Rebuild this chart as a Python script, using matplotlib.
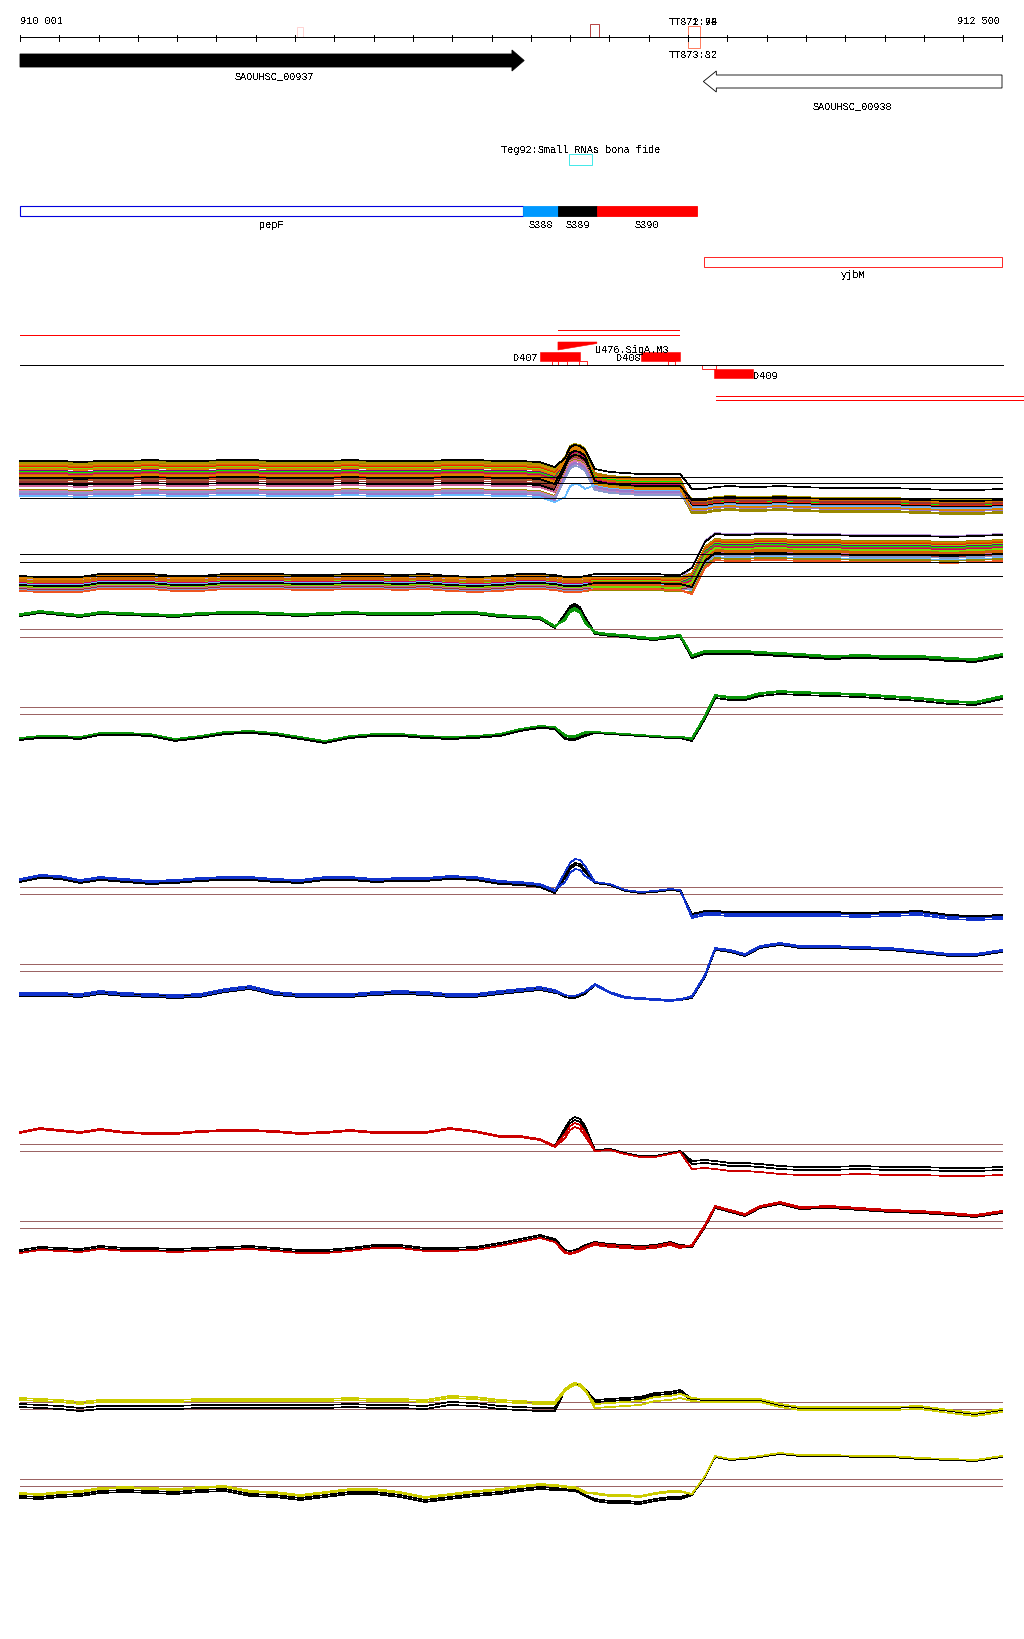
import matplotlib
matplotlib.use("Agg")
import matplotlib.pyplot as plt
from matplotlib.patches import Polygon, Rectangle
import numpy as np

plt.rcParams["text.antialiased"] = False

W, H = 1024, 1640
START, END = 910001, 912500

# ---- annotation features (genomic coordinates) ----
GENE_FWD = ("SAOUHSC_00937", 910001, 911253, 911284)   # start, head start, tip
GENE_REV = ("SAOUHSC_00938", 911740, 911773, 912500)   # tip, head end, end
PEPF = ("pepF", 910001, 911281)
SEGMENTS = [("S388", 911281, 911370, "#0099ff"),
            ("S389", 911370, 911469, "#000000"),
            ("S390", 911469, 911724, "#ff0000")]
YJBM = ("yjbM", 911742, 912500)
TEG92 = ("Teg92:Small RNAs bona fide", 911398, 911457)

# ---- signal tracks: sample grid (bp) ----
POS = [910001, 910052, 910103, 910154, 910205, 910268, 910332, 910395, 910459,
       910523, 910587, 910650, 910714, 910777, 910841, 910904, 910968, 911032,
       911095, 911159, 911222, 911273, 911324, 911362, 911388, 911401, 911413,
       911426, 911439, 911464, 911502, 911541, 911579, 911617, 911655, 911681,
       911711, 911744, 911770, 911808, 911846, 911884, 911935, 911986, 912062,
       912138, 912215, 912291, 912367, 912431, 912500]
PEAK_START, MID_START, RIGHT_START = 911375, 911460, 911700

BUNDLE_A_BASE = [42, 42, 42, 41, 42, 42, 43, 42, 42, 43, 43, 42, 42, 42, 43, 42, 42,
                 42, 43, 43, 42, 42, 41, 36, 52, 63, 65, 64, 60, 40, 37, 36, 35, 35,
                 35, 35, 15, 15, 17, 18, 17, 17, 18, 17, 16, 16, 16, 15, 14, 14, 15]
BUNDLE_A_REF = [42, 36, 21]
# colour, offsets for (left, peak, middle, right)
BUNDLE_A_LINES = [
    ("#998800", (15, 8, 6, -8)), ("#998800", (13, 6, 4, -6)),
    ("#e08000", (12, 7, 3, 2)), ("#cc6600", (11, 5, 5, 1)),
    ("#ee2200", (10, 4, 2, 0)), ("#77dd00", (9, 3, 1, -2)),
    ("#e08000", (8, 6, 0, 3)), ("#800080", (6, 2, -1, -1)),
    ("#00ee00", (5, 1, 2, 0)), ("#a0522d", (4, 0, -2, 1)),
    ("#cc0066", (3, 2, -1, -3)), ("#cc6600", (2, -1, 1, 2)),
    ("#ee2200", (0, -2, -3, -1)), ("#dd5511", (-2, -2, -4, -2)),
    ("#a0522d", (-3, -3, -3, -4)), ("#993333", (-5, -4, -5, 1)),
    ("#000000", (-7, -1, -6, -2)), ("#cc6699", (-9, -5, -7, -4)),
    ("#998800", (-13, -6, -8, -9)), ("#dd77aa", (-14, -7, -9, -3)),
    ("#aa88cc", (-16, -10, -10, -5)), ("#9977cc", (-17, -9, -8, -6)),
    ("#8899cc", (-15, -12, -11, -3)), ("#66bbff", (-19, -30, -6, -4)),
    ("#aa9900", (14, 10, -4, 5)), ("#e08000", (1, 4, -5, -5)),
    ("#000000", (-1, 3, -2, 4)), ("#000000", (16, 9, 10, 15)),
]

BUNDLE_B_BASE = [17, 16, 16, 16, 19, 19, 19, 17, 17, 19, 19, 19, 18, 18, 19, 19, 18,
                 19, 17, 16, 17, 19, 19, 18, 16, 16, 16, 16, 17, 18, 18, 18, 18, 18,
                 17, 17, 20, 46, 54, 53, 53, 54, 54, 53, 53, 52, 52, 52, 51, 52, 53]
BUNDLE_B_REF = [45, 37, 23]
BUNDLE_B_LINES = [
    ("#bb99dd", (3, 3, 3, 12)), ("#998800", (5, 5, 4, 6)),
    ("#e08000", (4, 4, 3, 5)), ("#cc6600", (2, 2, 2, 4)),
    ("#ee2200", (1, 1, 1, 3)), ("#77dd00", (0, 0, 0, 2)),
    ("#800080", (-1, -1, -1, 1)), ("#00ee00", (-2, -2, -2, 0)),
    ("#a0522d", (-3, -3, -3, -1)), ("#cc0066", (-1, -1, -2, -2)),
    ("#66bbff", (-2, -2, -3, -12)), ("#998800", (-5, -5, -5, -4)),
    ("#dd5511", (-4, -4, -4, -5)), ("#cc6699", (-6, -6, -6, -7)),
    ("#993333", (-7, -7, -7, -9)), ("#8899cc", (-8, -8, -8, -10)),
    ("#998800", (-9, -9, -9, -13)), ("#ee5522", (-9, -9, -8, -15)),
    ("#cc6600", (1, 1, -1, -6)), ("#77dd00", (-4, -4, -6, -3)),
    ("#000000", (-3, -3, -2, -8)), ("#000000", (6, 6, 7, 11)),
]

G1 = [54, 57, 55, 53, 56, 55, 54, 53, 55, 56, 56, 55, 54, 55, 56, 55, 55, 55, 56, 56,
      53, 52, 51, 42, 51, 59, 61, 58, 48, 36, 34, 33, 31, 30, 32, 33, 13, 17, 17, 17,
      17, 16, 15, 14, 12, 13, 12, 12, 10, 9, 14]
G2 = [11, 13, 13, 12, 16, 16, 15, 10, 13, 17, 18, 16, 12, 8, 13, 15, 15, 13, 12, 13,
      15, 20, 23, 22, 13, 12, 12, 14, 16, 17, 16, 15, 14, 13, 12, 12, 11, 33, 54, 52,
      52, 56, 58, 57, 56, 55, 53, 51, 48, 47, 53]
BL1 = [44, 48, 47, 43, 46, 44, 42, 43, 45, 46, 46, 44, 43, 46, 46, 44, 45, 45, 47, 46,
       42, 41, 39, 33, 52, 61, 65, 64, 58, 42, 40, 34, 32, 33, 35, 34, 8, 11, 11, 10,
       10, 10, 10, 10, 10, 9, 10, 11, 7, 6, 7]
BL2 = [14, 14, 14, 13, 16, 14, 13, 12, 13, 18, 21, 15, 13, 13, 13, 15, 16, 15, 13, 13,
       16, 18, 20, 17, 14, 13, 13, 15, 17, 25, 17, 12, 11, 10, 9, 10, 12, 33, 60, 58,
       54, 62, 65, 62, 62, 61, 60, 57, 54, 54, 58]
R1 = [52, 56, 54, 52, 55, 52, 51, 51, 53, 54, 54, 53, 51, 52, 54, 52, 52, 52, 56, 53,
      48, 48, 45, 38, 50, 58, 61, 59, 52, 33, 34, 30, 27, 27, 30, 32, 15, 16, 15, 13,
      13, 12, 10, 9, 9, 10, 9, 9, 8, 8, 9]
R2 = [11, 14, 13, 12, 15, 13, 13, 12, 13, 14, 15, 13, 11, 11, 13, 16, 16, 13, 13, 14,
      18, 22, 26, 22, 12, 11, 12, 14, 17, 21, 19, 18, 17, 18, 21, 18, 18, 38, 57, 53,
      49, 57, 61, 56, 57, 55, 53, 52, 50, 48, 52]
Y1 = [21, 20, 19, 17, 19, 19, 19, 19, 20, 20, 20, 20, 20, 20, 21, 20, 20, 19, 23, 22,
      19, 18, 17, 17, 30, 34, 36, 35, 30, 11, 12, 13, 14, 18, 19, 21, 18, 17, 17, 17,
      17, 17, 12, 9, 9, 9, 9, 10, 6, 3, 7]
Y2 = [21, 20, 22, 23, 26, 27, 26, 25, 27, 28, 23, 22, 19, 22, 25, 25, 22, 17, 20, 23,
      25, 28, 30, 29, 28, 27, 27, 25, 22, 20, 18, 18, 17, 20, 22, 22, 20, 38, 58, 55,
      56, 58, 61, 59, 59, 58, 58, 56, 55, 54, 58]

# replicate offsets (left, peak, middle, right); "k" = black, "c" = track colour
G1_REPS = [("k", (0, 2, -1, -2)), ("k", (-1, 4, 0, -1)), ("c", (1, -2, 1, 1)), ("c", (0, 0, 0, 0))]
G2_REPS = [("k", (-1, -3, -1, -3)), ("k", (-2, -2, -1, -1)), ("c", (0, 1, 0, -1)), ("c", (0, 0, 0, 0))]
BL1_REPS = [("k", (-2, -4, -1, 1)), ("k", (-1, -6, 0, 2)), ("c", (1, -10, 0, -2)), ("c", (0, 0, 0, 0))]
BL2_REPS = [("k", (-1, 0, 0, 0)), ("k", (1, -2, -1, -1)), ("c", (2, 0, -1, 1)), ("c", (0, 0, 0, 0))]
R1_REPS = [("k", (0, 6, 1, 8)), ("k", (0, 3, 1, 5)), ("c", (-1, -4, 0, 0)), ("c", (0, 0, 0, 0))]
R2_REPS = [("k", (3, 2, 1, 0)), ("k", (1, 0, -1, -1)), ("c", (0, -1, -2, 1)), ("c", (0, 0, 0, 0))]
Y1_REPS = [("k", (-6, 0, 8, 2)), ("k", (-9, -1, 6, 0)), ("c", (-2, -2, 4, 3)), ("c", (0, 0, 0, 0))]
Y2_REPS = [("k", (-3, -3, -5, 0)), ("k", (-5, -4, -7, -1)), ("c", (-1, -1, 1, 0)), ("c", (0, 0, 0, 0))]

G1_REF, G2_REF = [40, 32], [42, 35]
BL1_REF, BL2_REF = [37, 30], [45, 38]
R1_REF, R2_REF = [40, 33], [43, 36]
Y1_REF, Y2_REF = [17, 10], [35, 28]

FONT = dict(family=["Liberation Mono", "DejaVu Sans Mono"], fontsize=7.4)
BP_PER_PX = (END - START) / 982
XLIM = (START - 20 * BP_PER_PX, START + 1004 * BP_PER_PX)
REF_BROWN = "#9c6464"


def seg_of(p):
    if p < PEAK_START:
        return 0
    if p < MID_START:
        return 1
    if p < RIGHT_START:
        return 2
    return 3


SEG = np.array([seg_of(p) for p in POS])


def replicate(base, offs):
    return np.asarray(base, float) + np.asarray(offs, float)[SEG]


fig = plt.figure(figsize=(W / 100, H / 100), dpi=100)
ax = fig.add_axes([0, 0, 1, 1])
ax.set_xlim(*XLIM)
ax.set_ylim(H, 0)
ax.axis("off")

line_kw = dict(lw=0.5, antialiased=False)
edge_lw = 0.6

# ruler
ax.plot([START, END], [38, 38], color="black", **line_kw)
for t in list(range(START, END, 100)) + [END]:
    ax.plot([t, t], [35.5, 41.5], color="black", **line_kw)
ax.text(START, 21, "910 001", ha="left", va="center", **FONT)
ax.text(END - 2 * BP_PER_PX, 21, "912 500", ha="right", va="center", **FONT)
ax.add_patch(Rectangle((910706, 28), 16, 10, fill=False, ec="#ffcccc", lw=edge_lw))
ax.add_patch(Rectangle((911452, 25), 22, 13, fill=False, ec="#aa2222", lw=edge_lw))
ax.add_patch(Rectangle((911701, 27), 31, 11, fill=False, ec="#ff6644", lw=edge_lw))
ax.add_patch(Rectangle((911701, 38), 31, 11, fill=False, ec="#ff6644", lw=edge_lw))
ax.text(911713, 22, "TT872:94", ha="center", va="center", **FONT)
ax.text(911713, 22, "TT871:70", ha="center", va="center", **FONT)
ax.text(911713, 55, "TT873:82", ha="center", va="center", **FONT)

# genes
name, s, hs, tip = GENE_FWD
ax.add_patch(Polygon([(s, 55), (hs, 55), (hs, 51), (tip, 61.5), (hs, 72), (hs, 68), (s, 68)],
                     closed=True, fc="black", ec="black", lw=edge_lw))
ax.text((s + tip) / 2 + 2 * BP_PER_PX, 76, name, ha="center", va="center", **FONT)
name, tip, he, e = GENE_REV
ax.add_patch(Polygon([(tip, 82.5), (he, 72), (he, 76), (e, 76), (e, 89), (he, 89), (he, 93)],
                     closed=True, fc="white", ec="black", lw=edge_lw))
ax.text((tip + e) / 2, 106, name, ha="center", va="center", **FONT)

# small RNA
name, s, e = TEG92
ax.text((s + e) / 2, 150, name, ha="center", va="center", **FONT)
ax.add_patch(Rectangle((s, 155), e - s, 11, fill=False, ec="#22e5e5", lw=edge_lw))

# pepF operon segments
name, s, e = PEPF
ax.add_patch(Rectangle((s, 207), e - s, 10, fc="white", ec="#0000dd", lw=0.8))
ax.text((s + e) / 2, 225, name, ha="center", va="center", **FONT)
for name, s, e, c in SEGMENTS:
    ax.add_patch(Rectangle((s, 207), e - s, 10, fc=c, ec=c, lw=edge_lw))
    ax.text((s + e) / 2, 225, name, ha="center", va="center", **FONT)

name, s, e = YJBM
ax.add_patch(Rectangle((s, 258), e - s, 10, fill=False, ec="#ff0000", lw=edge_lw))
ax.text((s + e) / 2, 275, name, ha="center", va="center", **FONT)

# transcription units / promoters
ax.plot([910001, 911678], [336, 336], color="#ff0000", **line_kw)
ax.plot([911370, 911678], [331, 331], color="#ff0000", **line_kw)
ax.add_patch(Polygon([(911370, 343), (911469, 343), (911469, 344.5), (911370, 351)],
                     closed=True, fc="#ff0000", ec="#ff0000", lw=0.4))
ax.text(911464, 350, "U476.SigA.M3", ha="left", va="center", **FONT)
ax.add_patch(Rectangle((911324, 353), 102, 9, fc="#ff0000", ec="#ff0000", lw=0.4))
ax.text(911319, 358, "D407", ha="right", va="center", **FONT)
for s, e in [(911354, 911370), (911370, 911393), (911423, 911444), (911650, 911667)]:
    ax.add_patch(Rectangle((s, 362), e - s, 4, fc="white", ec="#ff0000", lw=edge_lw))
ax.add_patch(Rectangle((911581, 353), 100, 9, fc="#ff0000", ec="#ff0000", lw=0.4))
ax.text(911581, 358, "D408", ha="right", va="center", **FONT)
ax.plot([910001, 912503], [366, 366], color="black", **line_kw)
ax.add_patch(Rectangle((911737, 366), 35, 4, fc="white", ec="#ff0000", lw=edge_lw))
ax.add_patch(Rectangle((911767, 370), 99, 9, fc="#ff0000", ec="#ff0000", lw=0.4))
ax.text(911866, 376, "D409", ha="left", va="center", **FONT)
ax.plot([911772, XLIM[1]], [397, 397], color="#ff0000", **line_kw)
ax.plot([911772, XLIM[1]], [401, 401], color="#ff0000", **line_kw)


def track_axes(top, bottom):
    a = fig.add_axes([0, 1 - bottom / H, 1, (bottom - top) / H])
    a.set_xlim(*XLIM)
    a.set_ylim(0, bottom - top)
    a.axis("off")
    a.patch.set_alpha(0)
    return a


def draw_bundle(top, bottom, base, lines, refs):
    a = track_axes(top, bottom)
    for c, offs in lines:
        a.plot(POS, replicate(base, offs), color=c, clip_on=False, **line_kw)
    for r in refs:
        a.plot([START, END], [r, r], color="black", zorder=5, **line_kw)


def draw_pair(top, bottom, base, reps, refs, colour):
    a = track_axes(top, bottom)
    for r in refs:
        a.plot([START, END], [r, r], color=REF_BROWN, zorder=1, **line_kw)
    for key, offs in reps:
        c = "black" if key == "k" else colour
        a.plot(POS, replicate(base, offs), color=c, clip_on=False, zorder=3, **line_kw)


draw_bundle(440, 520, BUNDLE_A_BASE, BUNDLE_A_LINES, BUNDLE_A_REF)
draw_bundle(525, 600, BUNDLE_B_BASE, BUNDLE_B_LINES, BUNDLE_B_REF)
draw_pair(600, 670, G1, G1_REPS, G1_REF, "#0a960a")
draw_pair(680, 750, G2, G2_REPS, G2_REF, "#0a960a")
draw_pair(850, 925, BL1, BL1_REPS, BL1_REF, "#1133cc")
draw_pair(935, 1010, BL2, BL2_REPS, BL2_REF, "#1133cc")
draw_pair(1105, 1185, R1, R1_REPS, R1_REF, "#cc0000")
draw_pair(1195, 1265, R2, R2_REPS, R2_REF, "#cc0000")
draw_pair(1375, 1420, Y1, Y1_REPS, Y1_REF, "#cccc00")
draw_pair(1440, 1515, Y2, Y2_REPS, Y2_REF, "#cccc00")

fig.savefig("out.png", dpi=100)
